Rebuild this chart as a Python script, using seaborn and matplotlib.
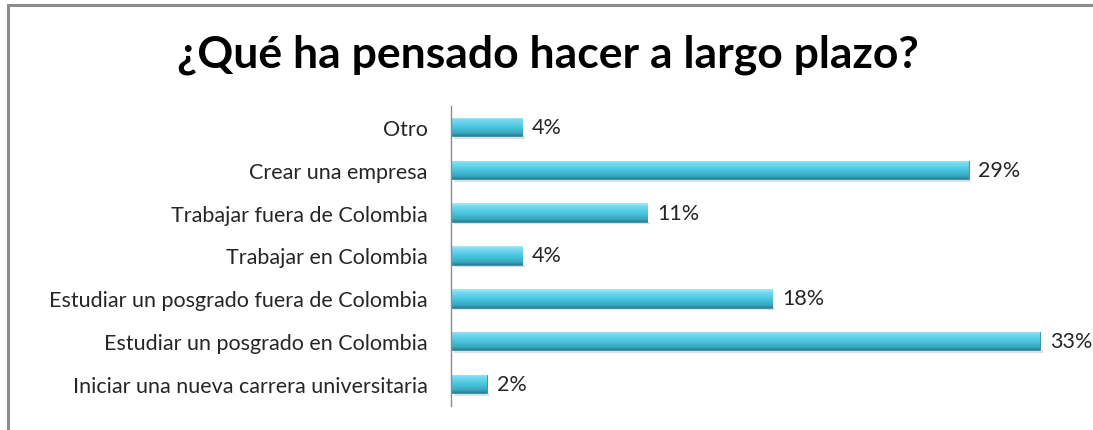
import numpy as np
import pandas as pd
import matplotlib
matplotlib.use("Agg")
import matplotlib.pyplot as plt
from matplotlib.patches import Rectangle
from matplotlib.colors import LinearSegmentedColormap
import seaborn as sns

# Survey answers and their shares (percent)
categories = [
    "Otro",
    "Crear una empresa",
    "Trabajar fuera de Colombia",
    "Trabajar en Colombia",
    "Estudiar un posgrado fuera de Colombia",
    "Estudiar un posgrado en Colombia",
    "Iniciar una nueva carrera universitaria",
]
values = [4, 29, 11, 4, 18, 33, 2]
title = "¿Qué ha pensado hacer a largo plazo?"

df = pd.DataFrame({"opcion": categories, "pct": values})

sns.set_theme(style="white")
plt.rcParams["font.family"] = ["Lato", "DejaVu Sans"]

W, H = 1093, 431
fig = plt.figure(figsize=(W / 100, H / 100), dpi=100)
fig.patch.set_facecolor("white")

# Outer frame of the chart area
frame = Rectangle((8 / W, -0.05), 1.2, 1 - 5.5 / H + 0.05, transform=fig.transFigure,
                  fill=False, edgecolor="#8c8c8c", linewidth=2.2)
fig.patches.append(frame)

ax = fig.add_axes([451 / W, 1 - 406.5 / H, 1 - 451 / W, (406.5 - 106.5) / H])
sns.barplot(data=df, x="pct", y="opcion", order=categories, orient="h",
            color="#45c2dc", width=0.43, ax=ax, saturation=1)

# Glossy cyan gradient on each bar
cmap = LinearSegmentedColormap.from_list(
    "bevel", [(0.0, "#9fe9f7"), (0.2, "#6fd8ef"), (0.55, "#48c4de"),
              (0.85, "#3aa6c0"), (1.0, "#2a7f94")])
grad = np.linspace(0, 1, 64).reshape(-1, 1)
for p in ax.patches:
    x0, y0 = p.get_x(), p.get_y()
    w, h = p.get_width(), p.get_height()
    im = ax.imshow(grad, cmap=cmap, aspect="auto",
                   extent=(x0, x0 + w, y0 + h, y0), zorder=p.get_zorder() + 0.1)
    im.set_clip_path(p)
    p.set_edgecolor("#2f8aa0")
    p.set_linewidth(0.6)
    # soft shadow under the bar
    ax.add_patch(Rectangle((x0 + 0.15, y0 + h), w, 0.06, facecolor="#e0e0e0",
                           edgecolor="none", zorder=p.get_zorder() - 0.2))
    ax.text(x0 + w + 0.55, y0 + h / 2, f"{w:.0f}%", va="center", ha="left",
            fontsize=15.5, color="#262626")

ax.set_xlim(0, 33 * (W - 451) / (1040 - 451))
ax.set_ylim(6.5, -0.5)
ax.set_xlabel("")
ax.set_ylabel("")
ax.set_xticks([])
ax.tick_params(axis="y", length=0, pad=17, labelsize=15.5, labelcolor="#262626")
for s in ["top", "right", "bottom"]:
    ax.spines[s].set_visible(False)
ax.spines["left"].set_color("#8c8c8c")
ax.spines["left"].set_linewidth(1.0)
ax.set_facecolor("none")

fig.text(548 / W, 1 - 55 / H, title, ha="center", va="center",
         fontsize=32, fontweight="bold", color="black")

fig.savefig("out.png", dpi=100, facecolor="white")
